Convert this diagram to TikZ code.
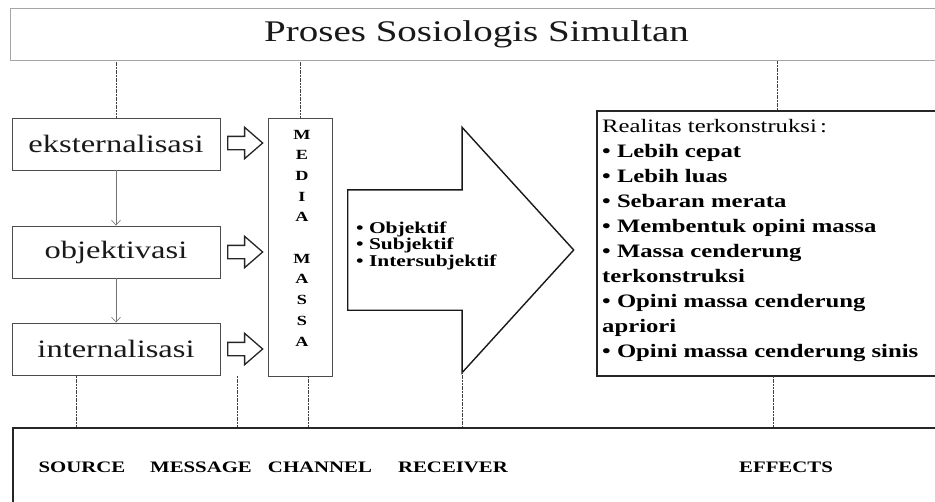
\documentclass[tikz,border=0pt]{standalone}
\usepackage{fontspec}
\setmainfont{Liberation Serif}[FakeStretch=1.3]
\usetikzlibrary{shapes.arrows,arrows.meta}

\begin{document}
\begin{tikzpicture}[x=1pt,y=-1pt,
  stagebox/.style={draw=black!70, line width=0.9pt, fill=white, inner sep=0pt,
    minimum width=208pt, minimum height=52pt, text=black!90,
    font=\fontsize{25}{30}\selectfont},
  flow/.style={draw=black!55, line width=0.6pt,
    -{Straight Barb[length=5pt,width=9pt]}},
  link/.style={draw=black!75, line width=0.8pt, dash pattern=on 2pt off 0.7pt},
  hollowarrow/.style={single arrow, draw=black!85, line width=1.3pt, fill=white,
    inner xsep=0pt, inner ysep=6pt, minimum height=35pt,
    single arrow head extend=9pt, single arrow tip angle=82, anchor=tail},
  boldtxt/.style={font=\bfseries\fontsize{16}{20}\selectfont},
]
\useasboundingbox (0,0) rectangle (935,501);
\clip (0,0) rectangle (935,501);
\fill[white] (0,0) rectangle (935,501);

% heading
\node[draw=black!35, line width=1.2pt, inner sep=0pt, anchor=north west,
      minimum width=932pt, minimum height=52pt, text=black!90,
      font=\fontsize{30}{36}\selectfont] (title) at (10,8) {Proses Sosiologis Simultan};

% three stages
\node[stagebox] (eks) at (116,144) {eksternalisasi};
\node[stagebox] (obj) at (116,252) {objektivasi};
\node[stagebox] (int) at (116,349) {internalisasi};
\draw[flow] (eks) -- (obj);
\draw[flow] (obj) -- (int);

% hollow arrows into the media column
\node[hollowarrow] (a1) at (227,143) {};
\node[hollowarrow] (a2) at (227,252) {};
\node[hollowarrow] (a3) at (227,349) {};

% media column
\node[draw=black!70, line width=0.9pt, fill=white, inner sep=0pt,
      minimum width=64pt, minimum height=258pt] (media) at (300,247) {};
\node[align=center, inner sep=0pt, font=\bfseries\fontsize{14}{20.7}\selectfont]
  (medialbl) at (302,238) {M\\E\\D\\I\\A\\[20.7pt]M\\A\\S\\S\\A};

% large arrow
\node[single arrow, draw=black!90, line width=1.4pt, fill=white,
      inner xsep=0pt, inner ysep=59.5pt,
      minimum height=226pt, single arrow head extend=62.5pt,
      single arrow tip angle=95.4, anchor=tail] (big) at (347,250) {};
\node[anchor=north west, align=left, inner sep=0pt,
      font=\bfseries\fontsize{16.5}{14.5}\selectfont] (bigtxt) at (356,222)
  {• Objektif\\• Subjektif\\• Intersubjektif};

% constructed reality
\node[draw=black!85, line width=2.4pt, fill=white, inner sep=0pt, anchor=north west,
      minimum width=360pt, minimum height=265pt] (real) at (596,110) {};
\node[anchor=north west, align=left, inner sep=0pt,
      font=\fontsize{19}{25}\selectfont] (realtxt) at (602,119)
  {Realitas terkonstruksi\,:\\
   \textbf{• Lebih cepat}\\
   \textbf{• Lebih luas}\\
   \textbf{• Sebaran merata}\\
   \textbf{• Membentuk opini massa}\\
   \textbf{• Massa cenderung}\\
   \textbf{terkonstruksi}\\
   \textbf{• Opini massa cenderung}\\
   \textbf{apriori}\\
   \textbf{• Opini massa cenderung sinis}};

% communication elements
\node[draw=black!85, line width=2.4pt, fill=white, inner sep=0pt, anchor=north west,
      minimum width=940pt, minimum height=100pt] (base) at (12,427) {};
\node[boldtxt] (source) at (82,467) {SOURCE};
\node[boldtxt] (message) at (201,467) {MESSAGE};
\node[boldtxt] (channel) at (320,467) {CHANNEL};
\node[boldtxt] (receiver) at (453,467) {RECEIVER};
\node[boldtxt] (effects) at (786,467) {EFFECTS};

% links from the heading
\draw[link] (eks.north) -- (eks.north |- title.south);
\draw[link] (media.north) -- (media.north |- title.south);
\draw[link] (real.north) -- (real.north |- title.south);

% links down to the elements
\coordinate (xsrc) at (76,376);
\coordinate (xmsg) at (237,376);
\coordinate (xch) at (308,376);
\coordinate (xrc) at (462,372);
\coordinate (xef) at (773,376);
\draw[link] (xsrc) -- (xsrc |- base.north);
\draw[link] (xmsg) -- (xmsg |- base.north);
\draw[link] (xch) -- (xch |- base.north);
\draw[link] (xrc) -- (xrc |- base.north);
\draw[link] (xef) -- (xef |- base.north);
\end{tikzpicture}
\end{document}
